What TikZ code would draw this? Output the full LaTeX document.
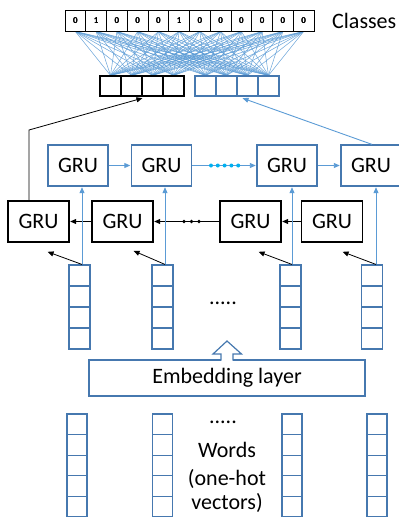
\documentclass[tikz,border=0pt]{standalone}
\usepackage{fontspec}
\setmainfont{Carlito}
\usetikzlibrary{arrows.meta,calc}
\definecolor{boxblue}{RGB}{70,120,175}
\definecolor{lineblue}{RGB}{91,155,213}
\definecolor{dotcyan}{RGB}{0,176,240}
\tikzset{
  ccell/.style={rectangle,draw=black,line width=1pt,minimum width=20.75pt,minimum height=21pt,inner sep=0pt,font=\fontsize{9}{10}\selectfont\bfseries},
  hk/.style={rectangle,draw=black,line width=1.2pt,minimum width=21pt,minimum height=20pt,inner sep=0pt},
  hb/.style={rectangle,draw=boxblue,line width=1.2pt,minimum width=21pt,minimum height=20pt,inner sep=0pt},
  grub/.style={rectangle,draw=boxblue,line width=1.2pt,minimum width=60pt,minimum height=41pt,inner sep=0pt,font=\fontsize{22}{24}\selectfont},
  gruk/.style={rectangle,draw=black,line width=1.2pt,minimum width=61pt,minimum height=41pt,inner sep=0pt,font=\fontsize{22}{24}\selectfont},
  ecell/.style={rectangle,draw=boxblue,line width=1.1pt,minimum width=21pt,minimum height=21pt,inner sep=0pt},
  wcell/.style={rectangle,draw=boxblue,line width=1.1pt,minimum width=20pt,minimum height=20.6pt,inner sep=0pt},
  fc/.style={draw=lineblue,line width=0.55pt,opacity=0.85},
  barr/.style={draw=black,line width=0.8pt,-{Triangle[length=6pt,width=5pt]},shorten >=0.6pt},
  larr/.style={draw=lineblue,line width=0.9pt,-{Triangle[length=6pt,width=5pt]},shorten >=0.6pt},
  lbl/.style={inner sep=0pt,font=\fontsize{22}{24}\selectfont},
}
\begin{document}
\begin{tikzpicture}[x=1pt,y=-1pt]
\useasboundingbox (0,0) rectangle (399,517);
\clip (0,0) rectangle (399,517);
% class vector
\foreach \v [count=\i] in {0,1,0,0,0,1,0,0,0,0,0,0}{
  \node[ccell] (c\i) at ({65+20.75*(\i-0.5)},20.5) {\v};
}
\node[lbl,anchor=west] (classes) at (332,21) {Classes};
% hidden concat vectors
\foreach \j in {1,...,4}{
  \node[hk] (h\j) at ({100+21*(\j-0.5)},86) {};
  \node[hb] (g\j) at ({195+21*(\j-0.5)},86) {};
}
% fully connected
\foreach \i in {1,...,12}{
  \foreach \j in {1,...,4}{
    \draw[fc] (c\i.south) -- (h\j.north);
    \draw[fc] (c\i.south) -- (g\j.north);
  }
}
\foreach \j in {1,...,4}{
  \node[hk] at (h\j) {};
  \node[hb] at (g\j) {};
}
\foreach \v [count=\i] in {0,1,0,0,0,1,0,0,0,0,0,0}{ \node[ccell] at (c\i) {\v}; }
% GRU rows
\node[grub] (t1) at (78,165.5) {GRU};
\node[grub] (t2) at (161.5,165.5) {GRU};
\node[grub] (t3) at (287,165.5) {GRU};
\node[grub] (t4) at (371,165.5) {GRU};
\node[gruk] (b1) at (38.5,221.5) {GRU};
\node[gruk] (b2) at (122.5,221.5) {GRU};
\node[gruk] (b3) at (250.5,221.5) {GRU};
\node[gruk] (b4) at (332,221.5) {GRU};
% forward arrows
\draw[larr] (t1.east) -- (t2.west);
\draw[larr] (t2.east) -- (t3.west);
\draw[larr] (t3.east) -- (t4.west);
\foreach \k in {0,...,4}{ \fill[dotcyan] ({211+6.8*\k},165.5) circle (2pt); }
% backward arrows
\draw[barr] (b2.west) -- (b1.east);
\draw[barr] (b3.west) -- (b2.east);
\draw[barr] (b4.west) -- (b3.east);
\foreach \k in {0,...,2}{ \fill[black] ({184+7.5*\k},221.5) circle (1.9pt); }
% outputs to concat
\coordinate (k1) at (29,130);
\coordinate (k2) at (143,98);
\draw[barr] (b1.north -| k1) -- (k1) -- (k2);
\coordinate (k3) at (242,98);
\draw[larr] ($(t4.north)+(1,0)$) -- (k3);
% embedding vectors
\foreach \x [count=\n] in {79.5,162.5,290.5,372}{
  \foreach \r in {1,...,4}{
    \node[ecell] (e\n\r) at (\x,{265+21*(\r-0.5)}) {};
  }
}
\foreach \n/\dx in {1/2.5,2/2.5,3/1.5,4/4}{
  \coordinate (a\n) at ($(e\n1.north)+(\dx,0)$);
  \draw[larr] (a\n) -- (a\n |- t\n.south);
}
\draw[barr] (a1) -- ($(b1.south)+(8.5,9)$);
\draw[barr] (a2) -- ($(b2.south)+(10.5,8)$);
\draw[barr] (a3) -- ($(b3.south)+(7.5,9)$);
\draw[barr] (a4) -- ($(b4.south)+(10,9)$);
\node[lbl] (dots1) at (223,303) {.....};
% embedding layer
\node[rectangle,draw=boxblue,line width=1.2pt,minimum width=276pt,minimum height=36pt,inner sep=0pt,font=\fontsize{22}{24}\selectfont] (emb) at (227,378) {Embedding layer};
\fill[white] (221,353) rectangle (233,361.5);
\draw[boxblue,line width=1.2pt,line join=miter] (221,360.6) -- (221,354) -- (213,354) -- (227,341) -- (241.5,354) -- (233,354) -- (233,360.6);
% word vectors
\foreach \x [count=\n] in {77,162.5,292,377}{
  \foreach \r in {1,...,5}{
    \node[wcell] (w\n\r) at (\x,{414+20.6*(\r-0.5)}) {};
  }
}
\node[lbl] (dots2) at (223,422) {.....};
\node[lbl] (words) at (227,450) {Words};
\node[lbl] (onehot) at (227,479) {(one-hot};
\node[lbl] (vect) at (227,503) {vectors)};
\end{tikzpicture}
\end{document}
